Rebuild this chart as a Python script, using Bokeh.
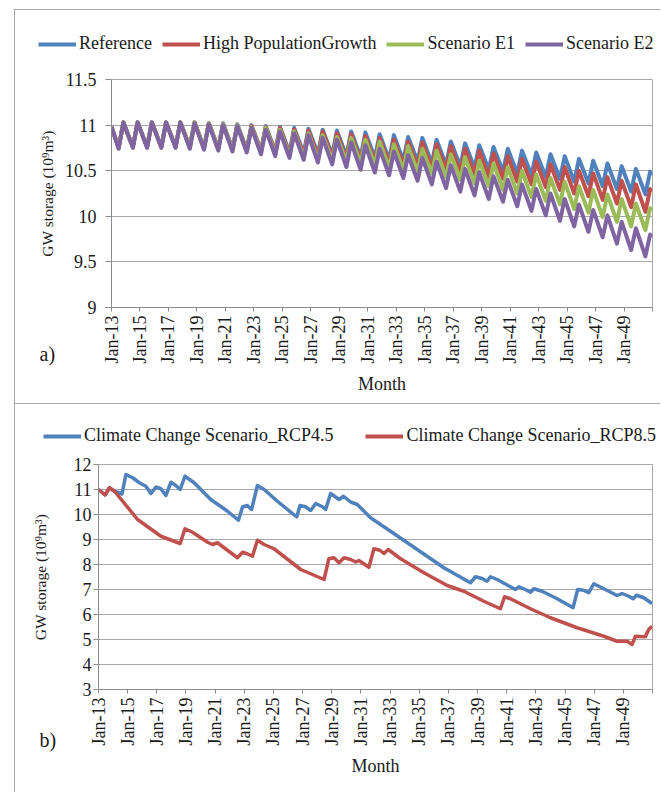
from math import pi
from bokeh.plotting import figure
from bokeh.models import FixedTicker, Legend, LegendItem, Range1d
from bokeh.core.properties import value
from bokeh.embed import file_html
from bokeh.resources import INLINE

SERIF = "'Liberation Serif', 'Times New Roman', serif"

# ---------------- data ----------------
years = list(range(2013, 2051))
x_ticks = [2013, 2015, 2017, 2019, 2021, 2023, 2025, 2027, 2029, 2031,
           2033, 2035, 2037, 2039, 2041, 2043, 2045, 2047, 2049, 2051]
x_tick_labels = ["Jan-13", "Jan-15", "Jan-17", "Jan-19", "Jan-21", "Jan-23",
                 "Jan-25", "Jan-27", "Jan-29", "Jan-31", "Jan-33", "Jan-35",
                 "Jan-37", "Jan-39", "Jan-41", "Jan-43", "Jan-45", "Jan-47",
                 "Jan-49", ""]

# panel a) : yearly high (Nov) and low (Jul) groundwater storage, 10^9 m3
top_names = ["Reference", "High PopulationGrowth", "Scenario E1", "Scenario E2"]
top_colors = ["#4F81BD", "#C0504D", "#9BBB59", "#8064A2"]
start_value = 10.98          # Jan-13
trough_month = 6             # Jul
peak_month = 10              # Nov
ref_peaks = [11.03, 11.03, 11.03, 11.03, 11.03, 11.03, 11.02, 11.02, 11.01, 11.00,
             10.99, 10.98, 10.97, 10.96, 10.95, 10.94, 10.93, 10.92, 10.90, 10.89,
             10.87, 10.86, 10.84, 10.82, 10.80, 10.78, 10.76, 10.74, 10.72, 10.70,
             10.68, 10.66, 10.63, 10.61, 10.58, 10.55, 10.52, 10.49]
ref_troughs = [10.75, 10.76, 10.76, 10.76, 10.76, 10.76, 10.75, 10.75, 10.74, 10.73,
               10.72, 10.71, 10.70, 10.69, 10.68, 10.67, 10.66, 10.65, 10.64, 10.62,
               10.61, 10.60, 10.58, 10.56, 10.55, 10.53, 10.51, 10.49, 10.47, 10.45,
               10.43, 10.41, 10.38, 10.36, 10.33, 10.30, 10.27, 10.24]
hpg_peaks = [11.03, 11.03, 11.03, 11.03, 11.03, 11.03, 11.02, 11.01, 11.00, 10.99,
             10.98, 10.97, 10.95, 10.94, 10.93, 10.91, 10.90, 10.88, 10.86, 10.84,
             10.82, 10.81, 10.79, 10.77, 10.74, 10.72, 10.69, 10.66, 10.63, 10.60,
             10.57, 10.54, 10.50, 10.47, 10.43, 10.39, 10.35, 10.30]
hpg_troughs = [10.75, 10.76, 10.76, 10.76, 10.76, 10.76, 10.75, 10.74, 10.73, 10.72,
               10.71, 10.70, 10.68, 10.67, 10.66, 10.64, 10.63, 10.61, 10.59, 10.58,
               10.56, 10.55, 10.53, 10.51, 10.48, 10.46, 10.43, 10.41, 10.38, 10.35,
               10.32, 10.29, 10.25, 10.22, 10.18, 10.14, 10.10, 10.05]
e1_peaks = [11.03, 11.03, 11.03, 11.03, 11.03, 11.03, 11.02, 11.01, 11.00, 10.98,
            10.97, 10.95, 10.93, 10.91, 10.89, 10.87, 10.86, 10.84, 10.82, 10.79,
            10.77, 10.74, 10.72, 10.68, 10.65, 10.61, 10.58, 10.54, 10.50, 10.46,
            10.42, 10.38, 10.33, 10.29, 10.24, 10.19, 10.14, 10.09]
e1_troughs = [10.75, 10.76, 10.76, 10.76, 10.76, 10.76, 10.75, 10.74, 10.73, 10.71,
              10.70, 10.68, 10.66, 10.64, 10.62, 10.61, 10.60, 10.58, 10.56, 10.53,
              10.51, 10.49, 10.47, 10.43, 10.40, 10.36, 10.33, 10.29, 10.25, 10.21,
              10.17, 10.13, 10.08, 10.04, 9.99, 9.94, 9.89, 9.85]
e2_peaks = [11.03, 11.03, 11.03, 11.03, 11.03, 11.02, 11.01, 11.00, 10.99, 10.97,
            10.95, 10.93, 10.91, 10.89, 10.86, 10.84, 10.81, 10.78, 10.74, 10.71,
            10.67, 10.64, 10.60, 10.56, 10.52, 10.48, 10.44, 10.40, 10.35, 10.30,
            10.25, 10.19, 10.13, 10.07, 10.01, 9.94, 9.87, 9.80]
e2_troughs = [10.74, 10.75, 10.75, 10.75, 10.75, 10.74, 10.73, 10.72, 10.71, 10.70,
              10.68, 10.66, 10.64, 10.62, 10.59, 10.57, 10.54, 10.51, 10.48, 10.45,
              10.42, 10.39, 10.35, 10.31, 10.27, 10.23, 10.19, 10.16, 10.11, 10.06,
              10.01, 9.95, 9.89, 9.83, 9.77, 9.70, 9.63, 9.56]
top_end_values = [10.45, 10.27, 10.06, 9.77]   # Dec-50
top_y_ticks = [9, 9.5, 10, 10.5, 11, 11.5]
top_y_labels = ["9", "9.5", "10", "10.5", "11", "11.5"]

# panel b) : read vertices (decimal year, storage 10^9 m3)
rcp45_t = [2013.00, 2013.45, 2013.75, 2014.10, 2014.61, 2014.88, 2015.34, 2015.80,
           2016.25, 2016.60, 2016.94, 2017.28, 2017.62, 2017.97, 2018.30, 2018.60,
           2018.93, 2019.56, 2020.70, 2021.85, 2022.60, 2022.88, 2023.20, 2023.50,
           2023.90, 2024.36, 2025.27, 2026.60, 2026.82, 2027.20, 2027.55, 2027.90,
           2028.36, 2028.58, 2028.92, 2029.50, 2029.80, 2030.30, 2030.75, 2031.66,
           2033.03, 2034.86, 2036.69, 2038.51, 2038.86, 2039.31, 2039.65, 2039.88,
           2040.34, 2041.60, 2041.83, 2042.28, 2042.63, 2042.86, 2043.43, 2044.46,
           2045.55, 2045.87, 2046.28, 2046.63, 2046.97, 2047.66, 2048.57, 2048.91,
           2049.37, 2049.67, 2049.90, 2050.40, 2050.97]
rcp45_v = [11.00, 10.78, 11.07, 10.93, 10.82, 11.60, 11.47, 11.27,
           11.13, 10.84, 11.10, 11.03, 10.76, 11.29, 11.16, 11.00,
           11.53, 11.27, 10.60, 10.13, 9.77, 10.30, 10.36, 10.20,
           11.16, 11.00, 10.53, 9.90, 10.36, 10.31, 10.16, 10.44,
           10.31, 10.20, 10.84, 10.60, 10.73, 10.50, 10.40, 9.87,
           9.33, 8.60, 7.87, 7.27, 7.51, 7.44, 7.33, 7.51,
           7.40, 7.00, 7.11, 7.00, 6.89, 7.03, 6.93, 6.63,
           6.27, 7.00, 6.97, 6.87, 7.23, 7.03, 6.76, 6.84,
           6.73, 6.63, 6.77, 6.67, 6.44]
rcp85_t = [2013.00, 2013.45, 2013.75, 2014.10, 2015.68, 2017.28, 2018.60, 2018.93,
           2019.45, 2020.48, 2020.82, 2021.16, 2022.53, 2022.88, 2023.20, 2023.56,
           2023.90, 2024.36, 2025.04, 2026.87, 2028.47, 2028.80, 2029.15, 2029.50,
           2029.84, 2030.30, 2030.64, 2030.86, 2031.55, 2031.89, 2032.30, 2032.58,
           2032.87, 2033.72, 2035.32, 2036.92, 2038.06, 2039.43, 2040.57, 2040.85,
           2041.26, 2042.63, 2044.00, 2045.83, 2047.66, 2048.57, 2049.26, 2049.60,
           2049.83, 2050.51, 2050.74, 2050.97]
rcp85_v = [11.00, 10.78, 11.07, 10.93, 9.80, 9.13, 8.84, 9.43,
           9.29, 8.89, 8.80, 8.87, 8.27, 8.49, 8.43, 8.33,
           8.97, 8.80, 8.63, 7.80, 7.40, 8.23, 8.27, 8.07,
           8.27, 8.20, 8.10, 8.16, 7.89, 8.63, 8.57, 8.44,
           8.60, 8.23, 7.67, 7.16, 6.93, 6.53, 6.23, 6.71,
           6.63, 6.23, 5.87, 5.47, 5.13, 4.93, 4.93, 4.80,
           5.13, 5.11, 5.40, 5.53]
bot_names = ["Climate Change Scenario_RCP4.5", "Climate Change Scenario_RCP8.5"]
bot_colors = ["#4F81BD", "#C0504D"]
bot_y_ticks = [3, 4, 5, 6, 7, 8, 9, 10, 11, 12]
bot_y_labels = ["3", "4", "5", "6", "7", "8", "9", "10", "11", "12"]
panel_tags = ["a)", "b)"]

GRID = "#a8a8a8"
AXIS = "#8c8c8c"
TEXT = "#1a1a1a"
BORDER = "1px solid #a8a8a8"
W = 646


def sawtooth(peaks, troughs, end_value):
    xs, ys = [2013.0], [start_value]
    for yr, lo, hi in zip(years, troughs, peaks):
        xs += [yr + trough_month / 12, yr + peak_month / 12]
        ys += [lo, hi]
    xs.append(2050 + 11 / 12)
    ys.append(end_value)
    return xs, ys


def make_chart(height, left, top, bottom, yr, yticks, ylabels,
               tick_out, label_standoff, title_standoff):
    p = figure(width=W, height=height, output_backend="svg",
               toolbar_location=None, x_range=Range1d(2013, 2051),
               y_range=Range1d(*yr), min_border_left=left, min_border_right=9,
               min_border_top=top, min_border_bottom=bottom)
    p.xgrid.visible = False
    p.ygrid.grid_line_color = GRID
    p.outline_line_color = GRID
    xa = p.xaxis[0]
    xa.ticker = FixedTicker(ticks=x_ticks)
    xa.major_label_overrides = dict(zip(x_ticks, x_tick_labels))
    xa.major_label_orientation = pi / 2
    xa.axis_line_color = AXIS
    xa.major_tick_line_color = AXIS
    xa.major_tick_in = 0
    xa.major_tick_out = 4
    xa.minor_tick_line_color = None
    xa.major_label_standoff = 4
    xa.major_label_text_font = SERIF
    xa.major_label_text_font_size = "18px"
    xa.major_label_text_color = TEXT
    xa.axis_label = "Month"
    xa.axis_label_text_font = SERIF
    xa.axis_label_text_font_size = "18px"
    xa.axis_label_text_font_style = "normal"
    xa.axis_label_text_color = TEXT
    xa.axis_label_standoff = 8
    ya = p.yaxis[0]
    ya.ticker = FixedTicker(ticks=yticks)
    ya.major_label_overrides = dict(zip(yticks, ylabels))
    ya.axis_line_color = AXIS
    ya.major_tick_line_color = AXIS
    ya.major_tick_in = 0
    ya.major_tick_out = tick_out
    ya.minor_tick_line_color = None
    ya.major_label_standoff = label_standoff
    ya.major_label_text_font = SERIF
    ya.major_label_text_font_size = "18px"
    ya.major_label_text_color = TEXT
    ya.axis_label = "GW storage (10\u2079m\u00b3)"
    ya.axis_label_text_font = SERIF
    ya.axis_label_text_font_size = "15.5px"
    ya.axis_label_text_font_style = "normal"
    ya.axis_label_text_color = TEXT
    ya.axis_label_standoff = title_standoff
    p.margin = (0, 0, 0, 14)
    p.styles = {"border-left": BORDER}
    return p


def make_legend_strip(height, names, colors, loc, spacing, font_size, top_margin):
    s = figure(width=W, height=height, output_backend="svg", toolbar_location=None,
               x_axis_location=None, y_axis_location=None, min_border=0,
               x_range=Range1d(0, 1), y_range=Range1d(0, 1))
    s.grid.visible = False
    s.outline_line_color = None
    items = []
    for name, color in zip(names, colors):
        # legend key only: its points lie outside the strip's visible range
        r = s.line([5, 6], [5, 6], line_color=color, line_width=4)
        items.append(LegendItem(label=name, renderers=[r]))
    s.add_layout(Legend(items=items, orientation="horizontal", location=loc,
                        label_text_font=SERIF, label_text_font_size=font_size,
                        label_text_color=TEXT, glyph_width=38, glyph_height=20,
                        label_standoff=3, spacing=spacing, padding=0, margin=0,
                        border_line_color=None, background_fill_alpha=0))
    s.margin = (top_margin, 0, 0, 14)
    s.styles = {"border-left": BORDER, "border-top": BORDER}
    return s


def make_tag(text, left, top):
    t = figure(width=30, height=28, output_backend="svg", toolbar_location=None,
               x_axis_location=None, y_axis_location=None, min_border=0,
               x_range=Range1d(0, 1), y_range=Range1d(0, 1))
    t.grid.visible = False
    t.outline_line_color = None
    t.background_fill_alpha = 0
    t.border_fill_alpha = 0
    t.text(x=[0], y=[0.5], text=[text], text_font=value(SERIF),
           text_font_size="20px", text_color=TEXT, text_baseline="middle",
           text_align="left")
    t.styles = {"position": "absolute", "left": f"{left}px", "top": f"{top}px"}
    return t


# ---------------- panel a ----------------
leg1 = make_legend_strip(50, top_names, top_colors, (23, 6), 10, "18px", 9)
p1 = make_chart(344, 96, 20, 96, (9, 11.5), top_y_ticks, top_y_labels, 6, 9, 6)
for name, color, pk, tr, endv in zip(top_names, top_colors,
                                     [ref_peaks, hpg_peaks, e1_peaks, e2_peaks],
                                     [ref_troughs, hpg_troughs, e1_troughs, e2_troughs],
                                     top_end_values):
    xs, ys = sawtooth(pk, tr, endv)
    p1.line(xs, ys, line_color=color, line_width=4, line_join="round")

# ---------------- panel b ----------------
leg2 = make_legend_strip(50, bot_names, bot_colors, (28, 8), 32, "18px", 0)
p2 = make_chart(339, 83, 11, 103, (3, 12), bot_y_ticks, bot_y_labels, 5, 2, 22)
for color, tx, vy in zip(bot_colors, [rcp45_t, rcp85_t], [rcp45_v, rcp85_v]):
    p2.line(tx, vy, line_color=color, line_width=3.5, line_join="round")

tag1 = make_tag(panel_tags[0], 39, 339)
tag2 = make_tag(panel_tags[1], 39, 725)

open("out.html", "w").write(file_html([leg1, p1, leg2, p2, tag1, tag2], INLINE))
